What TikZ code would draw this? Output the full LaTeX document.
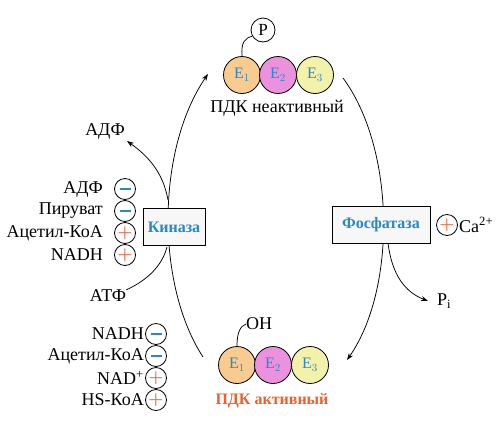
\documentclass[tikz,border=0pt]{standalone}
\usepackage{fontspec}
\setmainfont{Liberation Serif}
\usetikzlibrary{arrows.meta}
\definecolor{eblue}{RGB}{40,135,205}
\definecolor{porange}{RGB}{235,95,55}
\definecolor{eone}{RGB}{248,203,145}
\definecolor{etwo}{RGB}{236,145,222}
\definecolor{ethree}{RGB}{242,242,170}
\definecolor{actred}{RGB}{238,95,45}
\begin{document}
\begin{tikzpicture}[x=1pt,y=-1pt,
 enz/.style={circle,draw,line width=0.8pt,minimum size=37pt,inner sep=0pt,text=eblue,font=\fontsize{16}{16}\selectfont},
 lbl/.style={font=\fontsize{18}{20}\selectfont,inner sep=0pt},
 sgnm/.style={circle,draw,line width=0.8pt,minimum size=21pt,inner sep=0pt,text=eblue},
 sgnp/.style={circle,draw,line width=0.8pt,minimum size=21pt,inner sep=0pt,text=porange,font=\fontsize{18}{18}\selectfont\boldmath},
 enzbox/.style={draw,fill=gray!6,line width=0.8pt,text=eblue,font=\bfseries\fontsize{16}{18}\selectfont,minimum height=37pt,inner sep=0pt},
 arr/.style={-{Stealth[length=7pt,width=5pt]},line width=0.75pt},
 ln/.style={line width=0.75pt}]
\useasboundingbox (0,0) rectangle (500,426);
% cycle arcs
\coordinate (L0) at (203,357);
\coordinate (L1) at (208,74);
\coordinate (R0) at (343,78);
\coordinate (R1) at (347,360);
\draw[arr] (L0) .. controls (156,285) and (156,150) .. (L1);
\draw[arr] (R0) .. controls (396,150) and (396,290) .. (R1);
% side arrows
\coordinate (A0) at (168,200);
\coordinate (A1) at (127,141);
\draw[arr] (A0) .. controls (163,172) and (148,156) .. (A1);
\coordinate (T1) at (167,247);
\coordinate (P0) at (388,243);
\coordinate (P1) at (428,301);
\draw[arr] (P0) .. controls (392,275) and (405,292) .. (P1);
% boxes
\node[enzbox,minimum width=62pt] (kin) at (174,227) {Киназа};
\node[enzbox,minimum width=98pt] (fos) at (381,225) {Фосфатаза};
% top enzyme
\node[enz,fill=eone] (te1) at (242,75) {E$_1$};
\node[enz,fill=etwo] (te2) at (278,75) {E$_2$};
\node[enz,fill=ethree] (te3) at (315,75) {E$_3$};
\node[circle,draw,line width=0.8pt,minimum size=24pt,inner sep=0pt,font=\fontsize{17}{17}\selectfont] (p) at (263,30) {P};
\draw[ln] (te1.north) .. controls (241,42) and (245,38) .. (p.210);
\node[lbl] (tl) at (277,108) {ПДК неактивный};
% bottom enzyme
\node[enz,fill=eone] (be1) at (237,365) {E$_1$};
\node[enz,fill=etwo] (be2) at (273,365) {E$_2$};
\node[enz,fill=ethree] (be3) at (310,365) {E$_3$};
\node[lbl,anchor=west] (oh) at (246,324) {OH};
\draw[ln] (be1.north) .. controls (237,333) and (240,326) .. (oh.west);
\node[lbl,text=actred,font=\bfseries\fontsize{16}{18}\selectfont] (bl) at (272,401) {ПДК активный};
% ADP / ATP
\node[lbl] (adp) at (105,131) {АДФ};
\node[lbl] (atp) at (108,296) {АТФ};
\draw[ln] (atp.north east) .. controls (152,278) and (163,262) .. (T1);
% kinase regulators
\node[lbl,anchor=east] (k1) at (103,189) {АДФ};
\node[lbl,anchor=east] (k2) at (103,211) {Пируват};
\node[lbl,anchor=east] (k3) at (103,233) {Ацетил-КоА};
\node[lbl,anchor=east] (k4) at (103,255) {NADH};
\node[sgnm] (ks1) at (125,189) {\rule{11pt}{2pt}};
\node[sgnm] (ks2) at (125,211) {\rule{11pt}{2pt}};
\node[sgnp] (ks3) at (125,233) {$+$};
\node[sgnp] (ks4) at (125,255) {$+$};
% phosphatase regulator
\node[sgnp] (cas) at (447,225) {$+$};
\node[lbl,anchor=west] (ca) at (459,225) {Ca\textsuperscript{2+}};
\node[lbl,anchor=west] (pi) at (437,301) {P$_\mathrm{i}$};
% PDH complex regulators
\node[lbl,anchor=east] (b1) at (144,334) {NADH};
\node[lbl,anchor=east] (b2) at (144,356) {Ацетил-КоА};
\node[lbl,anchor=east] (b3) at (144,378) {NAD\textsuperscript{+}};
\node[lbl,anchor=east] (b4) at (144,400) {HS-КоА};
\node[sgnm] (bs1) at (156,334) {\rule{11pt}{2pt}};
\node[sgnm] (bs2) at (156,356) {\rule{11pt}{2pt}};
\node[sgnp] (bs3) at (156,378) {$+$};
\node[sgnp] (bs4) at (156,400) {$+$};
\end{tikzpicture}
\end{document}
